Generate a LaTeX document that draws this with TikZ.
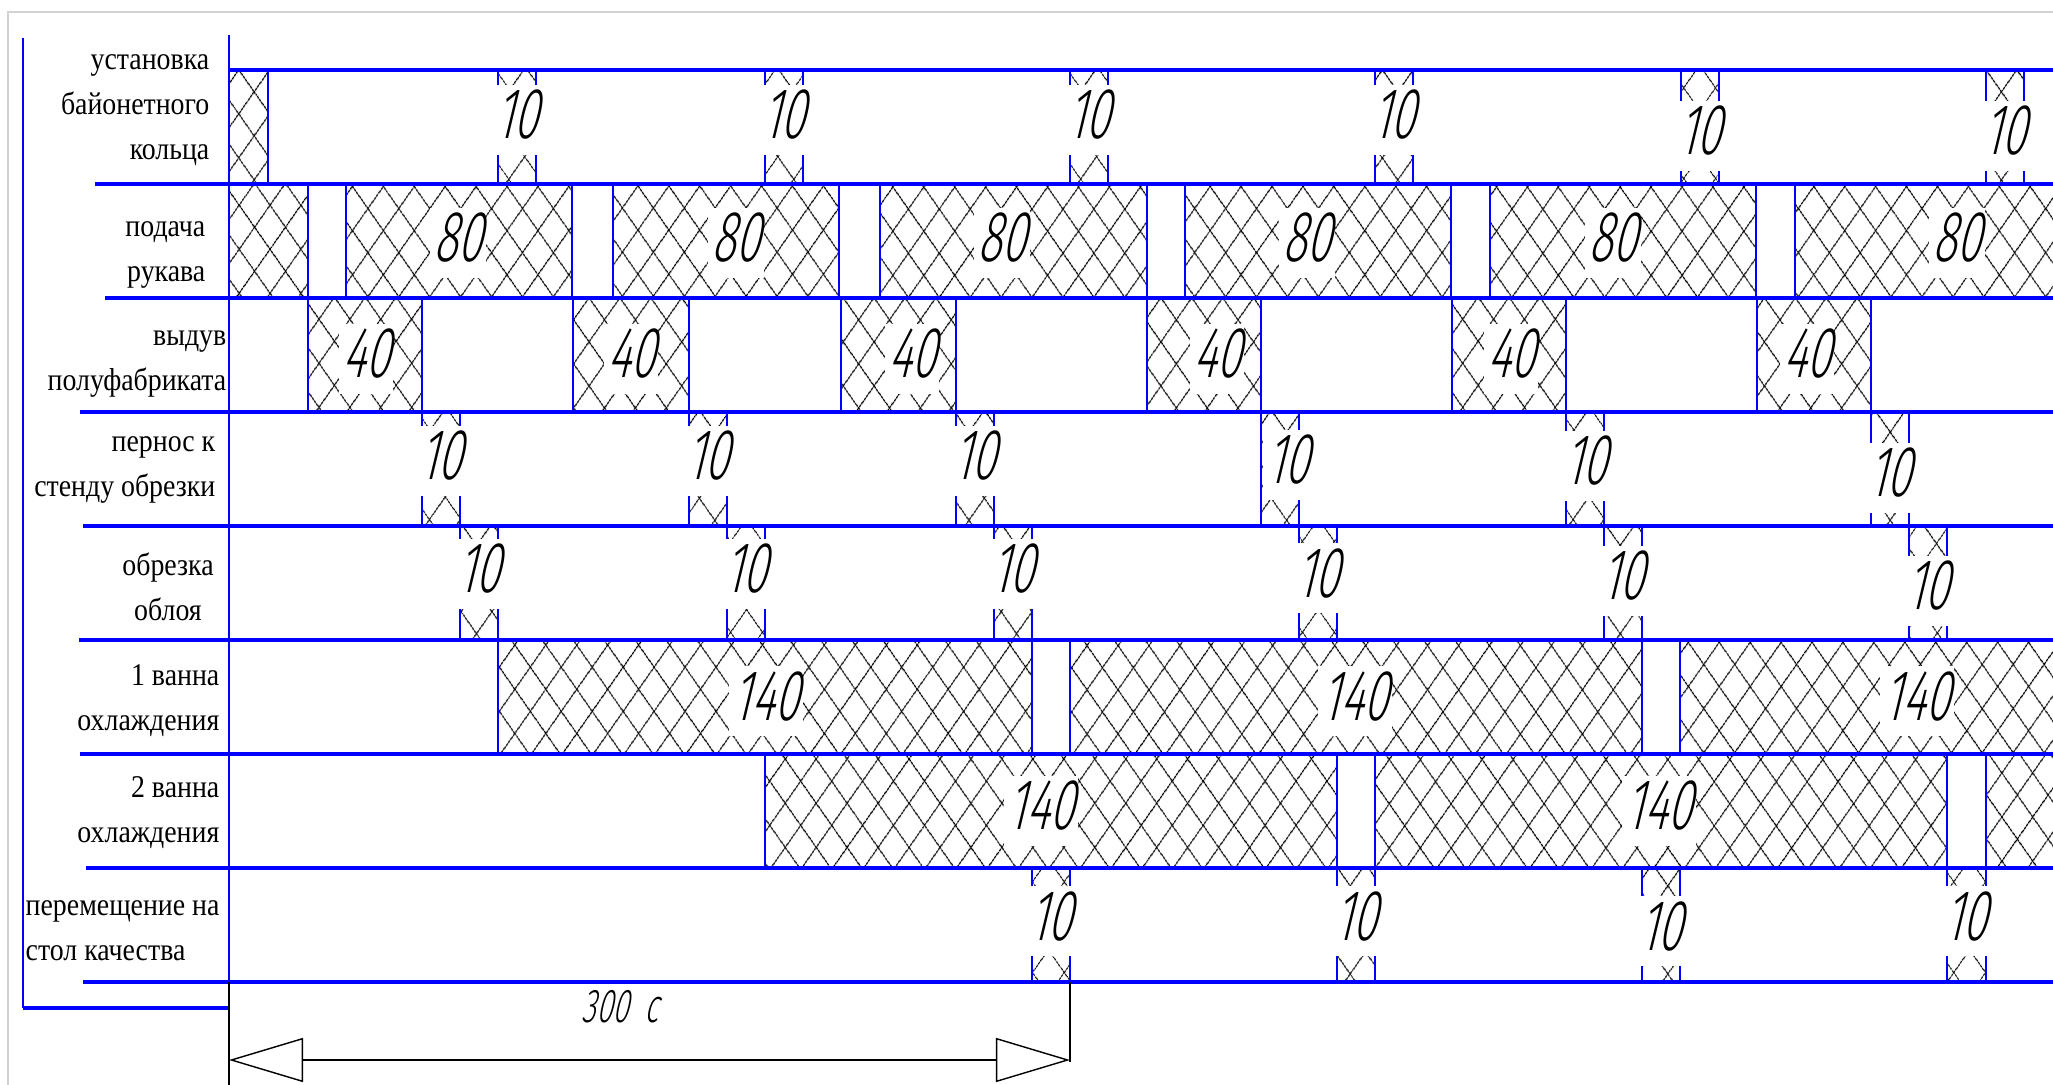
\documentclass[tikz,border=0pt]{standalone}
\usepackage{fontspec}
\setmainfont{Liberation Serif}
\newfontfamily\labelfont[FakeStretch=0.88]{Liberation Serif}
\newfontfamily\gostfont[FakeStretch=0.62,FakeSlant=0.24]{Fira Sans Light}
\usetikzlibrary{arrows.meta,patterns.meta}

\begin{document}
\begin{tikzpicture}[
  x=0.01cm, y=-0.01cm,
  hline/.style={draw=blue, line width=1.2pt},
  vline/.style={draw=blue, line width=0.8pt},
  hatch/.style={pattern={Lines[angle=55, distance=7.4pt, line width=0.35pt]},
                postaction={pattern={Lines[angle=-55, distance=7.4pt, line width=0.35pt]}}},
  num/.style={font=\gostfont\fontsize{20.5}{21}\selectfont, fill=white,
              inner xsep=1pt, inner ysep=0pt, text height=5.4mm, text depth=1.6mm,
              anchor=base},
  rowlabel/.style={font=\labelfont\fontsize{9}{12.8}\selectfont, align=right,
                   anchor=east, inner sep=0pt},
  dimline/.style={line width=0.8pt,
                  {Triangle[open, length=7.4mm, width=4.4mm, line width=0.4pt]}-{Triangle[open, length=7.4mm, width=4.4mm, line width=0.4pt]}},
  extline/.style={draw=black, line width=0.4pt},
]
  \useasboundingbox (0,0) rectangle (2053,1085);
  \fill[white] (0,0) rectangle (2053,1085);
  \clip (0,0) rectangle (2053,1085);

  % screenshot border
  \draw[gray!35, line width=0.5pt] (8,1085) -- (8,12) -- (2053,12);

  % ========= ROW 1: установка байонетного кольца =========
  \path[hatch] (229,70) rectangle (268,184);
  \draw[vline] (268,70) -- (268,184);
  \foreach \a/\b/\c/\d [count=\i] in {498/536/517/139, 765/803/784/139,
      1070/1108/1089/139, 1375/1413/1394/139, 1681/1719/1700/155,
      1986/2024/2005/155} {
    \path[hatch] (\a,70) rectangle (\b,184);
    \draw[vline] (\a,70) -- (\a,184) (\b,70) -- (\b,184);
    \node[num] (r1n\i) at (\c,\d) {10};
  }

  % ========= ROW 2: подача рукава =========
  \path[hatch] (229,184) rectangle (308,298);
  \draw[vline] (308,184) -- (308,298);
  \foreach \a/\b/\c [count=\i] in {346/572/458, 613/839/736, 880/1147/1002,
      1185/1451/1307, 1490/1756/1613, 1795/2070/1957} {
    \path[hatch] (\a,184) rectangle (\b,298);
    \draw[vline] (\a,184) -- (\a,298) (\b,184) -- (\b,298);
    \node[num] (r2n\i) at (\c,262) {80};
  }

  % ========= ROW 3: выдув полуфабриката =========
  \foreach \a/\b/\c [count=\i] in {308/422/366, 573/689/631, 841/956/912,
      1147/1261/1217, 1452/1566/1511, 1757/1871/1807} {
    \path[hatch] (\a,298) rectangle (\b,412);
    \draw[vline] (\a,298) -- (\a,412) (\b,298) -- (\b,412);
    \node[num] (r3n\i) at (\c,378) {40};
  }

  % ========= ROW 4: пернос к стенду обрезки =========
  \foreach \a/\b/\c/\d [count=\i] in {422/460/441/480, 689/727/708/480,
      956/994/975/480, 1261/1299/1288/484, 1566/1604/1586/485,
      1871/1909/1890/497} {
    \path[hatch] (\a,412) rectangle (\b,526);
    \draw[vline] (\a,412) -- (\a,526) (\b,412) -- (\b,526);
    \node[num] (r4n\i) at (\c,\d) {10};
  }

  % ========= ROW 5: обрезка облоя =========
  \foreach \a/\b/\c/\d [count=\i] in {460/498/479/593, 727/765/746/593,
      994/1032/1013/593, 1299/1337/1318/597, 1604/1642/1623/600,
      1909/1947/1928/610} {
    \path[hatch] (\a,526) rectangle (\b,640);
    \draw[vline] (\a,526) -- (\a,640) (\b,526) -- (\b,640);
    \node[num] (r5n\i) at (\c,\d) {10};
  }

  % ========= ROW 6: 1 ванна охлаждения =========
  \foreach \a/\b/\c [count=\i] in {498/1032/766, 1070/1642/1355, 1680/2070/1917} {
    \path[hatch] (\a,640) rectangle (\b,754);
    \draw[vline] (\a,640) -- (\a,754) (\b,640) -- (\b,754);
    \node[num] (r6n\i) at (\c,720) {140};
  }

  % ========= ROW 7: 2 ванна охлаждения =========
  \foreach \a/\b/\c [count=\i] in {765/1337/1041, 1375/1947/1659} {
    \path[hatch] (\a,754) rectangle (\b,868);
    \draw[vline] (\a,754) -- (\a,868) (\b,754) -- (\b,868);
    \node[num] (r7n\i) at (\c,830) {140};
  }
  \path[hatch] (1986,754) rectangle (2070,868);
  \draw[vline] (1986,754) -- (1986,868);

  % ========= ROW 8: перемещение на стол качества =========
  \foreach \a/\b/\c/\d [count=\i] in {1032/1070/1051/940, 1337/1375/1356/940,
      1642/1680/1661/950, 1947/1986/1966/940} {
    \path[hatch] (\a,868) rectangle (\b,982);
    \draw[vline] (\a,868) -- (\a,982) (\b,868) -- (\b,982);
    \node[num] (r8n\i) at (\c,\d) {10};
  }

  % row separators
  \draw[hline] (229,70) -- (2070,70);
  \foreach \y/\x in {184/95, 298/105, 412/80, 526/83, 640/79, 754/80,
                     868/86, 982/83} {
    \draw[hline] (\x,\y) -- (2070,\y);
  }

  % time axis and left frame
  \draw[vline] (229,35) -- (229,982);
  \draw[vline] (23,38) -- (23,1008);
  \draw[hline] (23,1008) -- (229,1008);

  % row labels
  \node[rowlabel] (lbl1) at (210,110) {установка\\байонетного\\кольца};
  \node[rowlabel] (lbl2) at (206,255) {подача\\рукава};
  \node[rowlabel] (lbl3) at (227,364) {выдув\\полуфабриката};
  \node[rowlabel] (lbl4) at (216,470) {пернос к\\стенду обрезки};
  \node[rowlabel, align=center, anchor=center] (lbl5) at (168,587) {обрезка\\облоя};
  \node[rowlabel] (lbl6) at (220,701) {1 ванна\\охлаждения};
  \node[rowlabel] (lbl7) at (220,813) {2 ванна\\охлаждения};
  \node[rowlabel, align=left, anchor=west] (lbl8) at (25,931) {перемещение на\\стол качества};

  % ========= CYCLE DIMENSION =========
  \coordinate (dimL) at (229,1060);
  \coordinate (dimR) at (1070,1060);
  \draw[extline] (229,982) -- (229,1085);
  \draw[extline] (1070,982) -- (1070,1062);
  \draw[dimline] (dimL) -- (dimR);
  \node[font=\gostfont\fontsize{13.5}{14}\selectfont, inner sep=0pt] (dimtext)
       at (620,1007) {300\,\,с};

\end{tikzpicture}
\end{document}
